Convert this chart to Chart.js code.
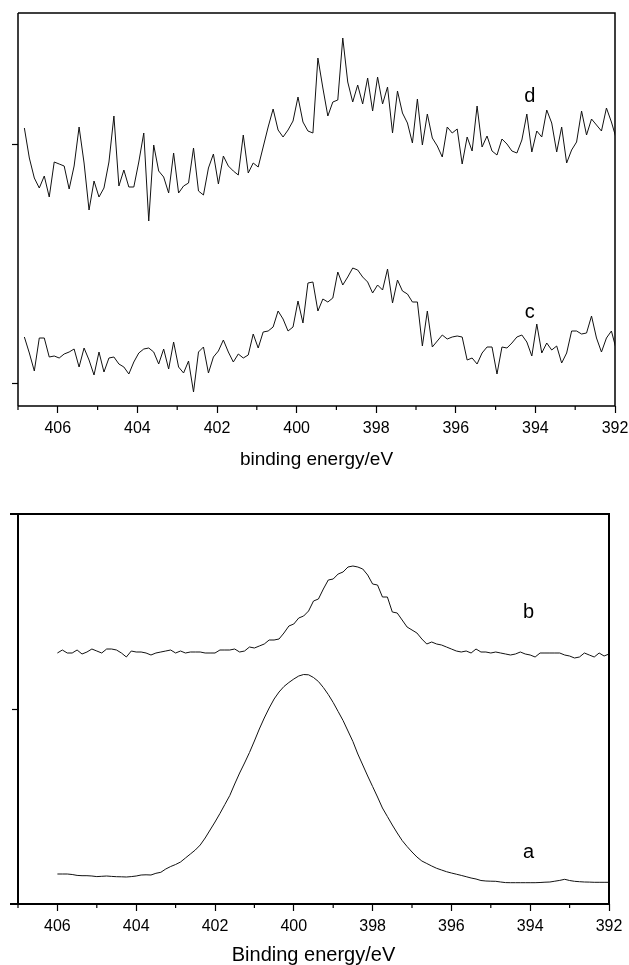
<!DOCTYPE html>
<html>
<head>
<meta charset="utf-8">
<script src="https://cdn.jsdelivr.net/npm/chart.js@4/dist/chart.umd.min.js"></script>
<style>
  html, body { margin: 0; padding: 0; background: #fff; overflow: hidden; }
  #wrap { position: relative; width: 629px; height: 965px; }
  canvas { position: absolute; left: 0; }
  #top { top: 0; }
  #bottom { top: 490px; }
</style>
</head>
<body>
<div id="wrap">
  <canvas id="top" width="629" height="469"></canvas>
  <canvas id="bottom" width="629" height="475"></canvas>
</div>
<script>
  // energy grid of the scans (0.125 eV steps)
  const topStart = 406.84;
  const bottomStart = 406.0;
  const eStep = 0.125;

  // N 1s intensity, arbitrary units (offset traces)
  const dSeries = [278, 248, 228, 218, 230, 209, 244, 242, 240, 217, 240, 279, 243, 196, 225, 209, 218, 244, 290, 220,
    236, 219, 219, 244, 273, 185, 261, 235, 229, 213, 253, 213, 220, 223, 258, 215, 211, 238, 252, 222,
    250, 240, 235, 231, 271, 233, 243, 239, 259, 279, 297, 276, 269, 276, 285, 309, 284, 275, 273, 348,
    318, 290, 304, 306, 368, 324, 304, 321, 302, 328, 295, 329, 302, 319, 273, 315, 293, 283, 263, 307,
    261, 292, 268, 260, 249, 279, 273, 277, 242, 269, 255, 300, 259, 270, 255, 251, 267, 262, 255, 253,
    266, 292, 254, 275, 269, 296, 283, 254, 279, 243, 256, 264, 295, 271, 287, 281, 275, 298, 284, 267];

  const cSeries = [69, 53, 35, 68, 68, 49, 50, 48, 52, 54, 57, 39, 58, 46, 31, 54, 34, 48, 49, 42,
    39, 32, 44, 53, 57, 58, 54, 42, 57, 37, 64, 39, 33, 45, 14, 54, 59, 33, 49, 55,
    66, 54, 44, 52, 48, 51, 72, 58, 74, 75, 79, 95, 87, 75, 79, 105, 83, 123, 124, 95,
    107, 104, 108, 134, 121, 129, 138, 136, 129, 124, 113, 121, 116, 137, 103, 126, 115, 112, 104, 104,
    60, 95, 59, 65, 71, 67, 69, 70, 69, 46, 48, 42, 53, 59, 59, 32, 59, 58, 63, 69,
    71, 64, 50, 82, 53, 63, 56, 60, 43, 53, 75, 75, 72, 73, 90, 68, 54, 68, 75, 56];

  const bSeries = [251, 254, 251, 251, 254, 250, 252, 255, 253, 251, 255, 255, 254, 251, 247, 253, 252, 252, 251, 249,
    251, 252, 253, 254, 251, 253, 251, 252, 252, 252, 251, 251, 251, 254, 254, 254, 255, 252, 253, 257,
    256, 258, 260, 264, 264, 265, 271, 278, 280, 286, 288, 293, 303, 305, 315, 324, 325, 330, 332, 337,
    338, 337, 335, 329, 320, 319, 307, 307, 292, 291, 284, 277, 274, 271, 265, 260, 262, 260, 259, 257,
    255, 253, 252, 253, 251, 255, 252, 252, 251, 252, 251, 250, 249, 250, 252, 250, 249, 247, 251, 251,
    251, 251, 251, 249, 248, 246, 247, 251, 249, 247, 251, 248, 250];

  const aSeries = [30, 30, 30, 29.5, 28.6, 28.3, 28.3, 28, 27.4, 27.7, 28, 27.6, 27.3, 27.2, 27, 27.4, 28, 29, 29.2, 29,
    30.7, 31.7, 35, 37.5, 39.5, 42, 46, 50, 54, 59, 66, 74, 82, 90.5, 99.5, 108.5, 120, 131, 141, 151.5,
    163, 175, 186, 196, 205, 212, 217.5, 221.5, 225, 228, 229.5, 229.2, 226.5, 222.5, 216.5, 209.5, 201.5, 192.5, 183.5, 173,
    162.5, 150, 139, 128, 117.5, 107, 96, 87.5, 79, 71, 63.5, 57.5, 52, 47, 43, 40.5, 38, 35.7, 34, 32.3,
    31, 29.8, 28.6, 27.3, 26, 25, 23.5, 23, 22.8, 22.7, 22, 21.4, 21.3, 21.3, 21.3, 21.3, 21.3, 21.3, 21.5, 21.8,
    22, 22.8, 23.6, 24.7, 23.5, 22.7, 22.3, 22, 21.9, 21.7, 21.7, 21.7, 21.7];

  // axes
  const xMajorTicks = [406, 404, 402, 400, 398, 396, 394, 392];
  const xMinorTicks = [407, 405, 403, 401, 399, 397, 395, 393];
  const topYTicks = [23, 262];
  const bottomYTicks = [195];

  // curve labels
  const topLabels = ['d', 'c'];
  const topLabelE = [394.14, 394.14];
  const topLabelI = [310, 94];
  const bottomLabels = ['b', 'a'];
  const bottomLabelE = [394.04, 394.04];
  const bottomLabelI = [292, 52];

  Chart.defaults.font.family = 'Arial, "Liberation Sans", sans-serif';
  Chart.defaults.color = '#000';

  function toPoints(start, values) {
    return values.map((v, i) => ({ x: +(start - i * eStep).toFixed(3), y: v }));
  }

  const framePlugin = {
    id: 'frame',
    afterDraw(chart, args, opts) {
      const { ctx, chartArea: a } = chart;
      const x = chart.scales.x;
      const y = chart.scales.y;
      ctx.save();
      ctx.strokeStyle = '#000';
      ctx.lineWidth = opts.width;
      ctx.beginPath();
      ctx.moveTo(a.left - opts.overhang, a.top);
      ctx.lineTo(a.right, a.top);
      ctx.lineTo(a.right, a.bottom);
      ctx.lineTo(a.left - opts.overhang, a.bottom);
      ctx.moveTo(a.left, a.top);
      ctx.lineTo(a.left, a.bottom);
      ctx.stroke();

      ctx.lineWidth = 1.2;
      ctx.beginPath();
      xMinorTicks.forEach((v) => {
        const px = x.getPixelForValue(v);
        ctx.moveTo(px, a.bottom);
        ctx.lineTo(px, a.bottom + 4);
      });
      ctx.stroke();

      ctx.fillStyle = '#000';
      ctx.font = '20px Arial, "Liberation Sans", sans-serif';
      ctx.textAlign = 'center';
      ctx.textBaseline = 'middle';
      opts.names.forEach((n, i) => {
        ctx.fillText(n, x.getPixelForValue(opts.e[i]), y.getPixelForValue(opts.v[i]));
      });
      ctx.restore();
    },
  };

  function makeChart(id, cfg) {
    const line = (data) => ({
      data,
      borderColor: '#111',
      borderWidth: 1,
      pointRadius: 0,
      tension: 0,
      fill: false,
    });
    return new Chart(document.getElementById(id), {
      type: 'line',
      data: { datasets: cfg.series.map(line) },
      options: {
        responsive: false,
        animation: false,
        layout: { padding: cfg.padding },
        plugins: {
          legend: { display: false },
          tooltip: { enabled: false },
          frame: cfg.frame,
        },
        scales: {
          x: {
            type: 'linear',
            reverse: true,
            min: 392,
            max: 407,
            afterBuildTicks: (s) => { s.ticks = xMajorTicks.map((v) => ({ value: v })); },
            afterFit: (s) => {
              s.height = cfg.xHeight;
              s.paddingLeft = 0;
              s.paddingRight = 0;
            },
            grid: { drawOnChartArea: false, drawTicks: true, tickLength: 7, tickWidth: 1.2, tickColor: '#000' },
            border: { display: false },
            ticks: { padding: 6, font: { size: cfg.tickSize }, maxRotation: 0 },
            title: { display: true, text: cfg.title, font: { size: cfg.titleSize, lineHeight: 1 }, padding: 0 },
          },
          y: {
            type: 'linear',
            min: 0,
            max: cfg.yMax,
            afterBuildTicks: (s) => { s.ticks = cfg.yTicks.map((v) => ({ value: v })); },
            afterFit: (s) => { s.width = 18; },
            grid: { drawOnChartArea: false, drawTicks: true, tickLength: 6, tickWidth: 1.2, tickColor: '#000' },
            border: { display: false },
            ticks: { display: false },
          },
        },
      },
      plugins: [framePlugin],
    });
  }

  makeChart('top', {
    series: [toPoints(topStart, dSeries), toPoints(topStart, cSeries)],
    padding: { top: 13, right: 14, left: 0, bottom: 0 },
    xHeight: 63,
    yMax: 393,
    yTicks: topYTicks,
    tickSize: 16,
    title: 'binding energy/eV',
    titleSize: 19,
    frame: { width: 1.5, overhang: 0, names: topLabels, e: topLabelE, v: topLabelI },
  });

  makeChart('bottom', {
    series: [toPoints(bottomStart, bSeries), toPoints(bottomStart, aSeries)],
    padding: { top: 24, right: 20, left: 0, bottom: 0 },
    xHeight: 61,
    yMax: 390,
    yTicks: bottomYTicks,
    tickSize: 16,
    title: 'Binding energy/eV',
    titleSize: 20,
    frame: { width: 2, overhang: 8, names: bottomLabels, e: bottomLabelE, v: bottomLabelI },
  });
</script>
</body>
</html>
